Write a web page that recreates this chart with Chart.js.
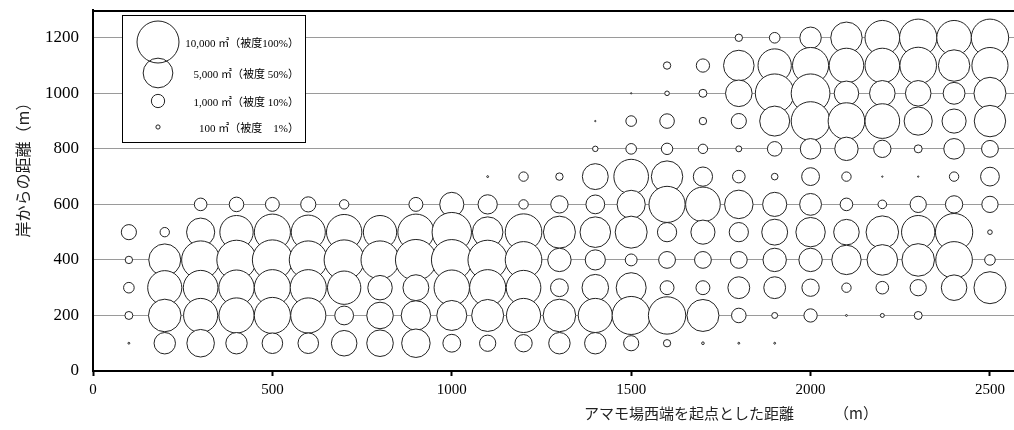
<!DOCTYPE html>
<html><head><meta charset="utf-8">
<script src="https://cdn.jsdelivr.net/npm/chart.js@4.4.1/dist/chart.umd.min.js"></script>
<style>html,body{margin:0;padding:0;background:#fff;}canvas{display:block;}</style>
</head><body>
<canvas id="c" width="1014" height="430"></canvas>
<script>
// distance from west end of the eelgrass bed (m)
const xDist = [100,200,300,400,500,600,700,800,900,1000,1100,1200,1300,1400,1500,1600,1700,1800,1900,2000,2100,2200,2300,2400,2500];
// coverage (%) per row, distance from shore (m)
const cover1200 = [0,0,0,0,0,0,0,0,0,0,0,0,0,0,0,0,0,3.1,6.4,26,56,68,79,68,79];
const cover1100 = [0,0,0,0,0,0,0,0,0,0,0,0,0,0,0,3.1,10,53,63,74,68,68,76,56,74];
const cover1000 = [0,0,0,0,0,0,0,0,0,0,0,0,0,0,0.1,1.2,3.6,40,85,85,34,37,37,27,58];
const cover900  = [0,0,0,0,0,0,0,0,0,0,0,0,0,0.1,6.4,12,3.1,13,51,85,76,68,45,33,56];
const cover800  = [0,0,0,0,0,0,0,0,0,0,0,0,0,1.7,6.4,7.4,5,2,12,24,31,17,3.6,24,16];
const cover700  = [0,0,0,0,0,0,0,0,0,0,0.2,5,3.1,38,68,56,21,9,2.5,18,5,0.1,0.1,5,20];
const cover600  = [0,0,9,12,11,13,5,0,11,33,21,5,17,20,45,74,68,46,33,27,9,4.2,15,17,15];
const cover500  = [13,5,45,63,74,66,71,63,74,88,53,76,58,53,58,21,33,21,38,49,37,60,63,79,1.2];
const cover400  = [3.1,58,82,88,91,82,91,82,95,94,88,76,31,23,8,16,16,16,31,31,49,53,60,76,6.4];
const cover300  = [6.4,66,68,71,74,74,63,34,38,71,74,68,18,40,51,11,11,27,27,17,5,9,15,37,58];
const cover200  = [3.6,60,66,70,74,70,20,40,49,51,58,66,60,66,82,79,58,12,2,10,0.2,0.9,3.6,0,0];
const cover100  = [0.2,26,43,26,24,24,37,40,46,18,15,17,26,26,13,3,0.4,0.2,0.2,0,0,0,0,0,0];

const rowDist = [1200,1100,1000,900,800,700,600,500,400,300,200,100];
const rowCover = [cover1200,cover1100,cover1000,cover900,cover800,cover700,cover600,cover500,cover400,cover300,cover200,cover100];

const xTicks = [0,500,1000,1500,2000,2500];
const yTicks = [0,200,400,600,800,1000,1200];

const legendCover = [100,50,10,1];
const legendLabels = ['10,000 ㎡（被度100%）','5,000 ㎡（被度 50%）','1,000 ㎡（被度 10%）','100 ㎡（被度　1%）'];
const xTitle = 'アマモ場西端を起点とした距離';
const xUnit = '（m）';
const yTitle = '岸からの距離（m）';

const RMAX = 21; // px radius for 100% coverage
const SERIF = '"Liberation Serif", "Times New Roman", "Noto Sans CJK JP", serif';
const JP = '"Noto Sans CJK JP", "Liberation Serif", serif';
const AREA = {left: 93, top: 10, right: 1014, bottom: 371};

const points = [];
rowDist.forEach((yv, i) => {
  rowCover[i].forEach((c, j) => {
    if (c > 0) points.push({x: xDist[j], y: yv, r: RMAX * Math.sqrt(c / 100), cover: c});
  });
});

const deco = {
  id: 'deco',
  afterLayout(chart) {
    const a = chart.chartArea, {left: L, top: T, right: R, bottom: B} = AREA;
    a.left = L; a.top = T; a.right = R; a.bottom = B; a.width = R - L; a.height = B - T;
    const x = chart.scales.x, y = chart.scales.y;
    x.left = L; x.right = R; x.width = R - L; x.top = B; x.bottom = chart.height; x.height = chart.height - B;
    x.configure();
    y.left = 0; y.right = L; y.width = L; y.top = T; y.bottom = B; y.height = B - T;
    y.configure();
  },
  afterDatasetsDraw(chart) {
    const {ctx, chartArea: a} = chart;
    ctx.save();
    ctx.strokeStyle = '#000';
    ctx.lineWidth = 2;
    ctx.beginPath(); ctx.moveTo(a.left, a.top + 1); ctx.lineTo(a.right, a.top + 1); ctx.stroke();
    // legend box
    const bx = 122, by = 15, bw = 183, bh = 127;
    ctx.fillStyle = '#fff'; ctx.fillRect(bx, by, bw, bh);
    ctx.lineWidth = 1; ctx.strokeStyle = '#000';
    ctx.strokeRect(bx + 0.5, by + 0.5, bw, bh);
    const cys = [42, 73, 101, 127];
    legendCover.forEach((c, i) => {
      const r = RMAX * Math.sqrt(c / 100);
      ctx.beginPath(); ctx.arc(158, cys[i], r, 0, 2 * Math.PI);
      ctx.strokeStyle = '#222'; ctx.lineWidth = 1; ctx.stroke();
      ctx.fillStyle = '#000'; ctx.font = '11px ' + SERIF;
      ctx.textAlign = 'right'; ctx.textBaseline = 'middle';
      ctx.fillText(legendLabels[i], 299, cys[i] + 2);
    });
    ctx.restore();
  },
  afterDraw(chart) {
    const {ctx} = chart;
    ctx.save();
    ctx.fillStyle = '#222';
    ctx.font = '15px ' + JP;
    ctx.textAlign = 'left'; ctx.textBaseline = 'middle';
    ctx.fillText(xTitle, 584, 413);
    ctx.fillText(xUnit, 834, 413);
    ctx.font = '16px ' + JP;
    ctx.translate(23, 166);
    ctx.rotate(-Math.PI / 2);
    ctx.textAlign = 'center';
    ctx.fillText(yTitle, 0, 0);
    ctx.restore();
  }
};

new Chart(document.getElementById('c'), {
  type: 'bubble',
  data: {
    datasets: [{
      data: points,
      backgroundColor: '#fff',
      borderColor: '#222',
      borderWidth: 1,
      hoverBorderWidth: 1
    }]
  },
  options: {
    responsive: false,
    animation: false,
    layout: {padding: {left: 0, top: 10, right: 0, bottom: 0}},
    plugins: {legend: {display: false}, tooltip: {enabled: false}},
    scales: {
      x: {
        type: 'linear', min: 0, max: 2567,
        afterBuildTicks(s) { s.ticks = xTicks.map(v => ({value: v})); },
        afterFit(s) { s.height = 59; },
        border: {color: '#000', width: 2},
        grid: {drawOnChartArea: false, drawTicks: true, tickLength: 5, tickColor: '#000', tickWidth: 2},
        ticks: {color: '#000', padding: 5, maxRotation: 0, autoSkip: false,
                font: {family: SERIF, size: 15}, callback: v => String(v)}
      },
      y: {
        type: 'linear', min: 0, max: 1300,
        afterBuildTicks(s) { s.ticks = yTicks.map(v => ({value: v})); },
        afterFit(s) { s.width = 93; },
        border: {color: '#000', width: 2},
        grid: {color: '#9a9a9a', lineWidth: 1, drawTicks: false},
        ticks: {color: '#000', padding: 14, autoSkip: false,
                font: {family: SERIF, size: 17}, callback: v => String(v)}
      }
    }
  },
  plugins: [deco]
});
</script>
</body></html>
